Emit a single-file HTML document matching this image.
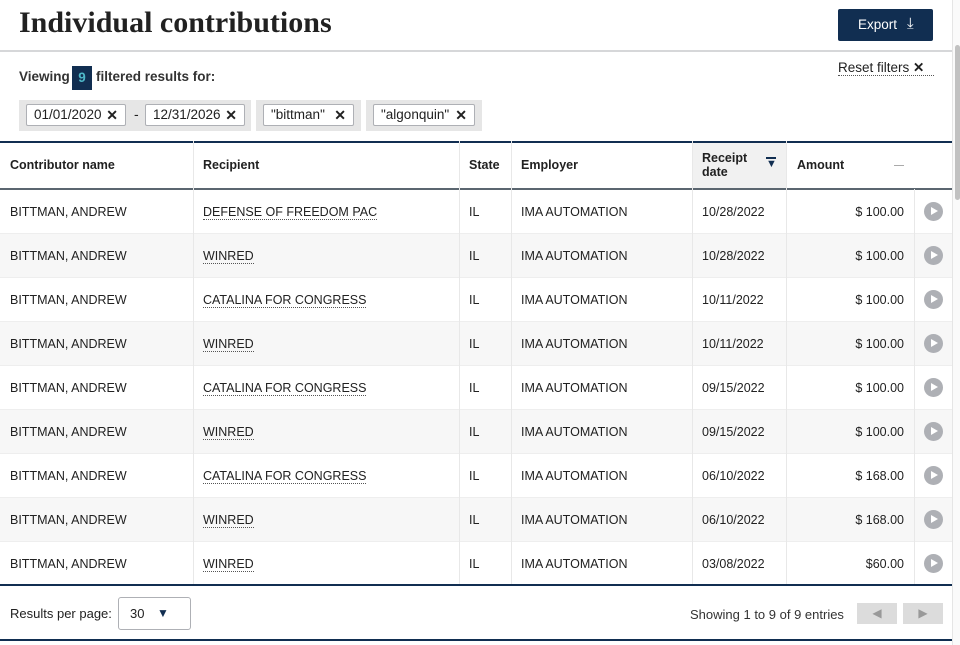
<!DOCTYPE html>
<html><head><meta charset="utf-8"><style>
*{margin:0;padding:0;box-sizing:border-box}
body{width:960px;height:645px;overflow:hidden;background:#fff;font-family:"Liberation Sans",sans-serif;color:#212121;position:relative}
.a{position:absolute}
h1{position:absolute;left:19px;top:6px;font-family:"Liberation Serif",serif;font-size:30px;font-weight:bold;color:#212121;letter-spacing:0}
.tag{position:absolute;top:104px;height:22px;border:1px solid #aeb0b5;background:#fff;border-radius:2px;font-size:13.5px;line-height:20px;padding-left:7px}
.tag b{position:absolute;right:7px;top:0;font-size:14px}
.grp{position:absolute;top:100px;height:31px;background:#e6e6e6}
.row{position:absolute;left:0;width:952px;height:44px;font-size:12.5px;line-height:44px;border-bottom:1px solid #eee}
.row span{position:absolute;top:0}
.u{border-bottom:1px dotted #555;line-height:14px;top:15px!important}
.vl{position:absolute;top:141px;height:444px;width:1px;background:#e8e8e8}
.play{position:absolute;left:924px;top:12px;width:19px;height:19px;border-radius:50%;background:#aeb0b5}
.play:after{content:"";position:absolute;left:7px;top:5px;border-left:7px solid #fff;border-top:4.5px solid transparent;border-bottom:4.5px solid transparent}
.hd{position:absolute;top:158px;font-size:12.5px;font-weight:bold;color:#212121}
</style></head><body>
<h1>Individual contributions</h1>
<div class="a" style="left:838px;top:9px;width:95px;height:32px;background:#112e51;border-radius:2px;color:#fff;font-size:13.5px;line-height:32px;padding-left:20px">Export <span style="position:absolute;left:69px;top:-1px;font-size:15px">⤓</span></div>
<div class="a" style="left:0;top:50px;width:952px;height:2px;background:#d6d7d9"></div>
<div class="a" style="left:952px;top:0;width:8px;height:645px;background:#fafafa;border-left:1px solid #e5e5e5"></div>
<div class="a" style="left:955px;top:45px;width:5px;height:155px;background:#c1c1c1;border-radius:3px"></div>
<div class="a" style="left:19px;top:69px;font-size:13.5px;font-weight:bold;color:#333">Viewing</div>
<div class="a" style="left:72px;top:66px;width:20px;height:24px;background:#112e51;color:#4fb8c9;font-size:13.5px;font-weight:bold;text-align:center;line-height:24px">9</div>
<div class="a" style="left:96px;top:69px;font-size:13.5px;font-weight:bold;color:#333">filtered results for:</div>
<div class="a" style="left:838px;top:60px;font-size:13.5px;color:#212121;border-bottom:1px dotted #555;line-height:15px;width:96px">Reset filters <span style="font-weight:bold">✕</span></div>
<div class="grp" style="left:19px;width:232px"></div>
<div class="grp" style="left:256px;width:105px"></div>
<div class="grp" style="left:366px;width:116px"></div>
<div class="tag" style="left:26px;width:100px">01/01/2020<b>✕</b></div>
<div class="a" style="left:134px;top:106px;font-size:14px">-</div>
<div class="tag" style="left:145px;width:100px">12/31/2026<b>✕</b></div>
<div class="tag" style="left:263px;width:91px">"bittman"<b>✕</b></div>
<div class="tag" style="left:373px;width:102px">"algonquin"<b>✕</b></div>
<div class="a" style="left:0;top:141px;width:952px;height:2px;background:#112e51"></div>
<div class="a" style="left:692px;top:143px;width:94px;height:46px;background:#f1f1f1"></div>
<div class="hd" style="left:10px">Contributor name</div>
<div class="hd" style="left:203px">Recipient</div>
<div class="hd" style="left:469px">State</div>
<div class="hd" style="left:521px">Employer</div>
<div class="hd" style="left:702px;top:151px;line-height:14px">Receipt<br>date</div>
<div class="a" style="left:766px;top:158px;font-size:11px;color:#112e51">▼</div>
<div class="a" style="left:766px;top:157px;width:10px;height:2px;background:#112e51"></div>
<div class="hd" style="left:797px">Amount</div>
<div class="a" style="left:894px;top:165px;width:10px;height:1px;background:#aaa"></div>
<div class="a" style="left:0;top:188px;width:952px;height:2px;background:#5b6670"></div>
<div id="rows"></div>
<script>
var d=[["DEFENSE OF FREEDOM PAC","10/28/2022","$ 100.00"],["WINRED","10/28/2022","$ 100.00"],["CATALINA FOR CONGRESS","10/11/2022","$ 100.00"],["WINRED","10/11/2022","$ 100.00"],["CATALINA FOR CONGRESS","09/15/2022","$ 100.00"],["WINRED","09/15/2022","$ 100.00"],["CATALINA FOR CONGRESS","06/10/2022","$ 168.00"],["WINRED","06/10/2022","$ 168.00"],["WINRED","03/08/2022","$60.00"]];
var h="";d.forEach(function(r,i){h+='<div class="row" style="top:'+(190+i*44)+'px;background:'+(i%2?'#f7f7f7':'#fff')+'"><span style="left:10px">BITTMAN, ANDREW</span><span class="u" style="left:203px">'+r[0]+'</span><span style="left:469px">IL</span><span style="left:521px">IMA AUTOMATION</span><span style="left:702px">'+r[1]+'</span><span style="right:48px">'+r[2]+'</span><div class="play"></div></div>'});
document.getElementById("rows").innerHTML=h;
</script>
<div class="vl" style="left:193px"></div><div class="vl" style="left:459px"></div><div class="vl" style="left:511px"></div><div class="vl" style="left:692px"></div><div class="vl" style="left:786px"></div><div class="vl" style="left:914px;top:189px;height:396px"></div>
<div class="a" style="left:0;top:584px;width:952px;height:2px;background:#112e51"></div>
<div class="a" style="left:10px;top:606px;font-size:13px">Results per page:</div>
<div class="a" style="left:118px;top:597px;width:73px;height:33px;border:1px solid #aeb0b5;border-radius:3px;font-size:13px;line-height:31px;padding-left:11px">30<span style="position:absolute;left:38px;top:0;color:#112e51;font-size:12px">▼</span></div>
<div class="a" style="left:690px;top:607px;font-size:13px;color:#333">Showing 1 to 9 of 9 entries</div>
<div class="a" style="left:857px;top:603px;width:40px;height:21px;background:#dcdcdc;color:#999;text-align:center;font-size:12px;line-height:21px">◀</div>
<div class="a" style="left:903px;top:603px;width:40px;height:21px;background:#dcdcdc;color:#999;text-align:center;font-size:12px;line-height:21px">▶</div>
<div class="a" style="left:0;top:639px;width:952px;height:2px;background:#112e51"></div>
</body></html>
